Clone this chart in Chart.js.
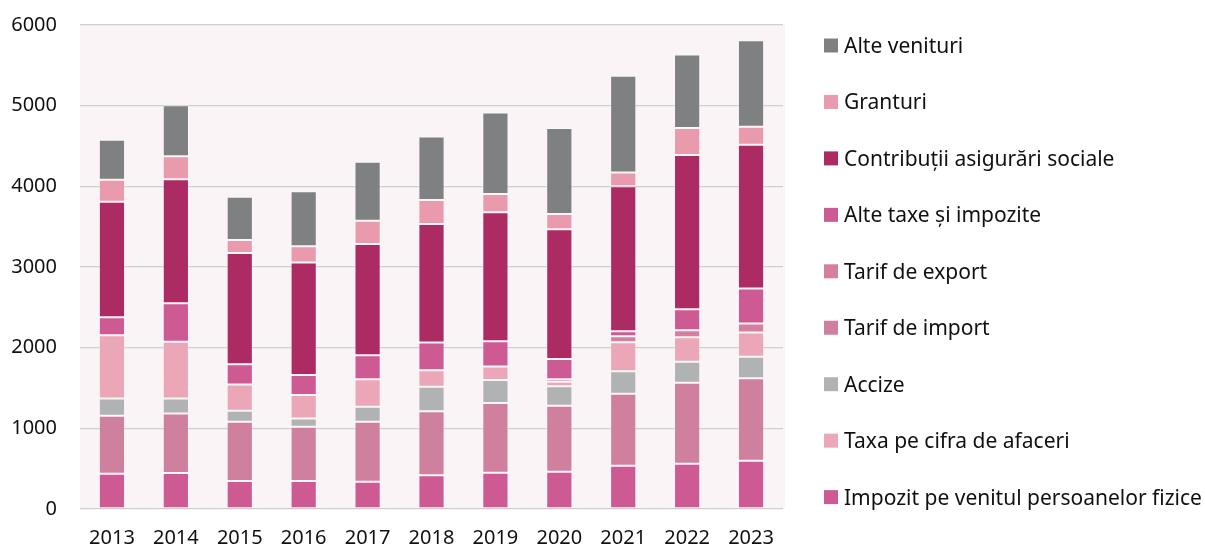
<!DOCTYPE html>
<html>
<head>
<meta charset="utf-8">
<script src="https://cdn.jsdelivr.net/npm/chart.js@4.4.1/dist/chart.umd.min.js"></script>
<style>
  html, body { margin: 0; padding: 0; background: #ffffff; }
  #wrap { width: 1205px; height: 550px; position: relative; }
</style>
</head>
<body>
<div id="wrap"><canvas id="revChart"></canvas></div>
<script>
const years = ["2013", "2014", "2015", "2016", "2017", "2018", "2019", "2020", "2021", "2022", "2023"];
const yTicks = [0, 1000, 2000, 3000, 4000, 5000, 6000];

// stacked bottom -> top, as seen in the bars
const impozitVenit   = [437, 446, 347, 347, 338, 417, 450, 462, 536, 561, 598];
const tarifImport    = [718, 739, 734, 672, 743, 796, 863, 817, 892, 1003, 1024];
const accize         = [215, 186, 136, 104, 186, 301, 285, 244, 281, 260, 264];
const taxaCifra      = [784, 701, 327, 289, 343, 207, 170, 54, 359, 306, 302];
const tarifExport    = [0, 0, 0, 0, 0, 0, 0, 33, 74, 87, 111];
const alteTaxe       = [223, 479, 251, 248, 297, 343, 313, 248, 62, 260, 433];
const contributii    = [1433, 1536, 1378, 1396, 1378, 1469, 1598, 1610, 1796, 1911, 1783];
const granturi       = [272, 285, 161, 202, 289, 297, 227, 190, 173, 334, 223];
const alteVenituri   = [495, 632, 537, 681, 731, 789, 1008, 1065, 1198, 913, 1074];

// legend order, top -> bottom
const legendOrder = [
  "Alte venituri",
  "Granturi",
  "Contribuții asigurări sociale",
  "Alte taxe și impozite",
  "Tarif de export",
  "Tarif de import",
  "Accize",
  "Taxa pe cifra de afaceri",
  "Impozit pe venitul persoanelor fizice"
];

const FONT = "'Noto Sans', 'Open Sans', sans-serif";

function ds(label, data, color) {
  return {
    label: label,
    data: data,
    backgroundColor: color,
    borderColor: "rgba(255,255,255,0.35)",
    borderWidth: 1,
    borderSkipped: false,
    categoryPercentage: 1,
    barPercentage: 0.41
  };
}

const datasets = [
  ds("Impozit pe venitul persoanelor fizice", impozitVenit, "#ce5a94"),
  ds("Tarif de import", tarifImport, "#d0809f"),
  ds("Accize", accize, "#b1b2b3"),
  ds("Taxa pe cifra de afaceri", taxaCifra, "#eba7b8"),
  ds("Tarif de export", tarifExport, "#d47ea0"),
  ds("Alte taxe și impozite", alteTaxe, "#ce5a93"),
  ds("Contribuții asigurări sociale", contributii, "#ac2b63"),
  ds("Granturi", granturi, "#e99bad"),
  ds("Alte venituri", alteVenituri, "#7f8081")
];

// pale plot background
const plotBg = {
  id: "plotBg",
  beforeDraw(chart) {
    const { ctx, chartArea } = chart;
    ctx.save();
    ctx.fillStyle = "#faf4f6";
    ctx.fillRect(chartArea.left, chartArea.top, chartArea.right - chartArea.left + 2, chartArea.bottom - chartArea.top);
    ctx.restore();
  }
};

// legend drawn at the right, in the reference's order
const sideLegend = {
  id: "sideLegend",
  afterDraw(chart) {
    const { ctx } = chart;
    ctx.save();
    ctx.font = "21px " + FONT;
    ctx.textBaseline = "alphabetic";
    ctx.textAlign = "left";
    legendOrder.forEach((name, i) => {
      const d = chart.data.datasets.find(x => x.label === name);
      const top = 38.5 + i * 56.45;
      ctx.fillStyle = d.backgroundColor;
      ctx.fillRect(824, top, 14, 14);
      ctx.fillStyle = "#111111";
      ctx.fillText(name, 844, top + 14.5);
    });
    ctx.restore();
  }
};

const ctx = document.getElementById("revChart").getContext("2d");
new Chart(ctx, {
  type: "bar",
  data: { labels: years, datasets: datasets },
  options: {
    responsive: true,
    maintainAspectRatio: false,
    animation: false,
    layout: { padding: { top: 25, right: 422, bottom: 0, left: 0 } },
    plugins: {
      legend: { display: false },
      tooltip: { enabled: false }
    },
    scales: {
      x: {
        stacked: true,
        grid: { display: false, drawTicks: false },
        border: { display: false },
        ticks: { color: "#111111", font: { family: FONT, size: 20 }, padding: 17 },
        afterFit(scale) { scale.height = 41; }
      },
      y: {
        stacked: true,
        min: 0,
        max: 6000,
        afterBuildTicks(scale) { scale.ticks = yTicks.map(v => ({ value: v })); },
        grid: { color: "#cfcfcf", lineWidth: 1.3, drawTicks: false },
        border: { display: false },
        ticks: {
          color: "#111111",
          font: { family: FONT, size: 20 },
          padding: 23,
          callback: v => String(v)
        },
        afterFit(scale) {
          scale.width = 80;
          scale.paddingTop = 0;
          scale.paddingBottom = 0;
        }
      }
    }
  },
  plugins: [plotBg, sideLegend]
});
</script>
</body>
</html>
